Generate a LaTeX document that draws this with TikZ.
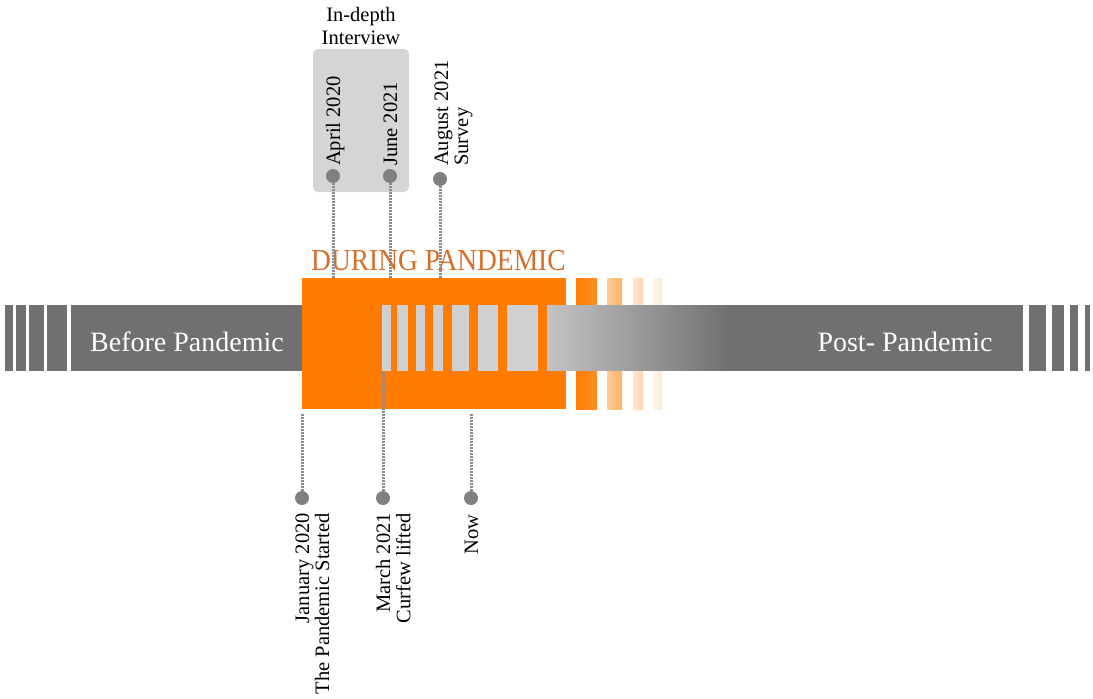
\documentclass[tikz,border=0pt]{standalone}
\usepackage{fontspec}
\setmainfont{Liberation Serif}
\usetikzlibrary{fadings}
\definecolor{barGray}{RGB}{112,112,112}
\definecolor{paleGray}{RGB}{208,208,208}
\definecolor{fadeGray}{RGB}{196,196,196}
\definecolor{panOrange}{RGB}{255,124,0}
\definecolor{titleOrange}{RGB}{214,110,40}
\definecolor{boxGray}{RGB}{213,213,213}
\definecolor{dotGray}{RGB}{128,128,128}
\definecolor{leaderGray}{RGB}{140,140,150}
\begin{document}
\begin{tikzpicture}[x=1pt,y=-1pt,
  block/.style={inner sep=0pt, outer sep=0pt, anchor=north west},
  dot/.style={circle, fill=dotGray, minimum size=14pt, inner sep=0pt},
  leader/.style={draw=leaderGray, line width=3pt, dash pattern=on 1.6pt off 1.4pt},
  phase/.style={text=white, font=\fontsize{28}{30}\selectfont, anchor=base, inner sep=0pt},
  vlab/.style={rotate=90, inner sep=0pt, font=\fontsize{20.5}{20}\selectfont},
]
\useasboundingbox (0,0) rectangle (1093,699);

% fading orange bands trailing the pandemic period
\shade[left color=panOrange, right color=panOrange!85] (576,278) rectangle (597,409);
\shade[left color=panOrange!40, right color=panOrange!60] (607,278) rectangle (622,409);
\shade[left color=panOrange!18, right color=panOrange!32] (633,278) rectangle (643,409);
\shade[left color=panOrange!6, right color=panOrange!16] (652,278) rectangle (662,409);

% main time bar with its broken ends
\node[block, fill=barGray, minimum width=952pt, minimum height=66pt] (bar) at (71,305) {};
\foreach \a/\b in {5/12.7, 16/26, 29.3/44, 47.3/66.7}
  \fill[barGray] (\a,305) rectangle (\b,371);
\foreach \a/\b in {1029/1046, 1052/1064, 1070/1078, 1085/1090}
  \fill[barGray] (\a,305) rectangle (\b,371);

% pandemic period
\node[block, fill=panOrange, minimum width=264pt, minimum height=131pt] (during) at (302,278) {};
\foreach \a/\b in {382/391, 397/408, 416/425, 433/443, 452/469, 478/498, 507/538}
  \fill[paleGray] (\a,305) rectangle (\b,371);
% the bar re-emerging from the pandemic, light on the left and darkening
\fill[barGray] (547,305) rectangle (730,371);
\fill[fadeGray, path fading=east] (547,305) rectangle (730,371);

% phase labels
\node[phase] (before) at (187,351) {Before Pandemic};
\node[phase] (post) at (905,351) {Post- Pandemic};
\node[anchor=base west, inner sep=0pt, xscale=0.9, text=titleOrange,
      font=\fontsize{30.5}{32}\selectfont] (title) at (311,270) {DURING PANDEMIC};

% interview window
\node[block, fill=boxGray, rounded corners=5pt, minimum width=96pt, minimum height=143pt] (idibox) at (313,49) {};
\node[anchor=base, inner sep=0pt, font=\fontsize{20.5}{23}\selectfont] (idilab) at (361,44)
  {\begin{tabular}[b]{@{}c@{}}In-depth\\Interview\end{tabular}};

% milestones above the bar
\node[dot] (apr) at (333,176) {};
\node[dot] (jun) at (390,176) {};
\node[dot] (aug) at (440,179) {};
\draw[leader] (apr.south) -- (apr |- during.north);
\draw[leader] (jun.south) -- (jun |- during.north);
\draw[leader] (aug.south) -- (aug |- during.north);
\node[vlab, anchor=base west] (aprlab) at (340,166) {April 2020};
\node[vlab, anchor=base west] (junlab) at (397,166) {June 2021};
\node[vlab, anchor=base west] (auglab) at (448,166)
  {\begin{tabular}[t]{@{}l@{}}August 2021\\Survey\end{tabular}};

% milestones below the bar
\node[dot] (jan) at (302,498) {};
\node[dot] (mar) at (383,498) {};
\node[dot] (now) at (471,498) {};
\draw[leader, shorten >=4pt] (jan.north) -- (jan |- during.south);
\draw[leader] (mar.north) -- (mar |- bar.south);
\draw[leader, shorten >=4pt] (now.north) -- (now |- during.south);
\node[vlab, anchor=base east] (janlab) at (309,513)
  {\begin{tabular}[t]{@{}r@{}}January 2020\\The Pandemic Started\end{tabular}};
\node[vlab, anchor=base east] (marlab) at (390,513)
  {\begin{tabular}[t]{@{}r@{}}March 2021\\Curfew lifted\end{tabular}};
\node[vlab, anchor=base east] (nowlab) at (478,514) {Now};
\end{tikzpicture}
\end{document}
